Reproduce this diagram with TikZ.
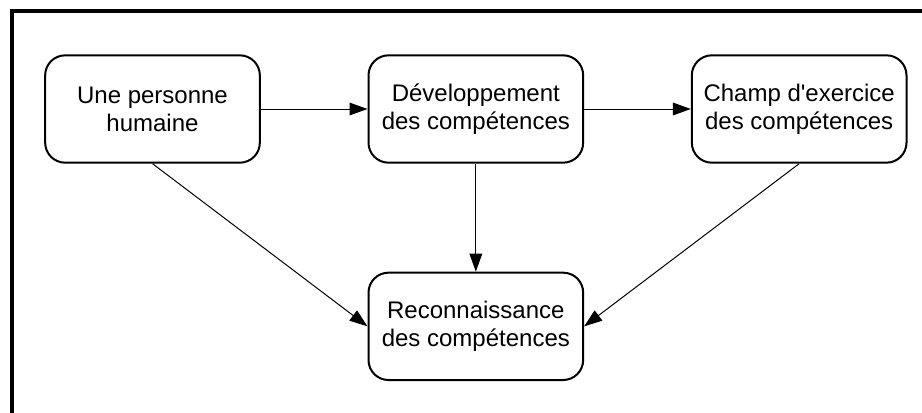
\documentclass[tikz,border=0pt]{standalone}
\usepackage{fontspec}
\setmainfont{Liberation Sans}
\usetikzlibrary{positioning,arrows.meta}

\begin{document}
\begin{tikzpicture}[x=0.75pt,y=-0.75pt,
   box/.style={draw,line width=1.5pt,rounded corners=15pt,minimum width=161pt,
     minimum height=80.5pt,align=center,inner sep=0pt,
     font=\fontsize{18pt}{21pt}\selectfont},
   link/.style={line width=0.75pt,-{Triangle[length=13.5pt,width=9.5pt]}},
   node distance=80pt]
\useasboundingbox (0,0) rectangle (922,412);
% frame round the whole
\begin{scope}
  \clip (0,0) rectangle (922,412);
  \draw[line width=2.4pt] (12,11) rectangle (960,450);
\end{scope}
\node[box] (personne) at (152.5,109) {Une personne\\humaine};
\node[box,right=of personne] (dev) {Développement\\des compétences};
\node[box,right=of dev] (champ) {Champ d\textquotesingle exercice\\des compétences};
\node[box,below=81pt of dev] (recon) {Reconnaissance\\des compétences};
\draw[link] (personne) -- (dev);
\draw[link] (dev) -- (champ);
\draw[link] (dev) -- (recon);
\draw[link] (personne.south) -- (recon.west);
\draw[link] (champ.south) -- (recon.east);
\end{tikzpicture}
\end{document}
